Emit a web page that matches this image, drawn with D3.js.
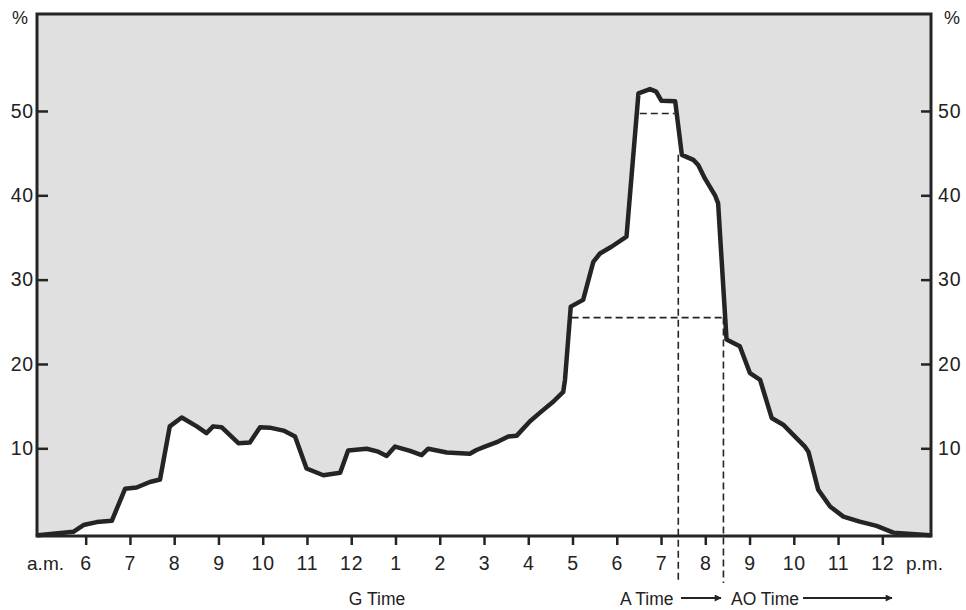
<!DOCTYPE html>
<html>
<head>
<meta charset="utf-8">
<script src="https://cdn.jsdelivr.net/npm/d3@7"></script>
<style>
  html, body { margin: 0; padding: 0; background: #fff; }
  svg { display: block; font-family: "Liberation Sans", Arial, Helvetica, sans-serif; }
</style>
</head>
<body>
<svg id="chart" width="966" height="610"></svg>
<script>
// ---- data (hours of day, percent) ----
const hours = [4.92, 5.72, 5.95, 6.25, 6.59, 6.89, 7.15, 7.45, 7.68, 7.90,
  8.17, 8.51, 8.73, 8.88, 9.07, 9.45, 9.71, 9.94, 10.16, 10.47,
  10.73, 10.99, 11.37, 11.75, 11.93, 12.35, 12.61, 12.80, 12.99, 13.33,
  13.59, 13.74, 14.16, 14.68, 14.83, 15.02, 15.32, 15.55, 15.74, 16.04,
  16.26, 16.57, 16.79, 16.83, 16.96, 17.24, 17.47, 17.62, 17.88, 18.22,
  18.49, 18.75, 18.89, 19.01, 19.32, 19.47, 19.73, 19.84, 19.99, 20.22,
  20.29, 20.48, 20.78, 21.01, 21.24, 21.50, 21.76, 22.25, 22.33, 22.55,
  22.82, 23.12, 23.49, 23.87, 24.25, 25.08];
const percent = [-0.3, 0.1, 0.9, 1.25, 1.4, 5.2, 5.35, 6.0, 6.3, 12.6,
  13.65, 12.6, 11.8, 12.6, 12.5, 10.6, 10.7, 12.5, 12.45, 12.1,
  11.4, 7.6, 6.8, 7.1, 9.75, 9.95, 9.6, 9.1, 10.2, 9.7,
  9.2, 9.95, 9.5, 9.35, 9.8, 10.2, 10.8, 11.4, 11.5, 13.2,
  14.2, 15.55, 16.7, 18.1, 26.8, 27.6, 32.1, 33.1, 33.9, 35.1,
  52.1, 52.6, 52.3, 51.2, 51.15, 44.8, 44.2, 43.6, 42.0, 40.0,
  39.05, 22.9, 22.1, 18.9, 18.1, 13.6, 12.8, 10.2, 9.6, 5.1,
  3.1, 1.9, 1.3, 0.8, 0.0, -0.3];

const xTickHours = [6, 7, 8, 9, 10, 11, 12, 13, 14, 15, 16, 17, 18, 19, 20, 21, 22, 23, 24];
const xTickLabels = ["6", "7", "8", "9", "10", "11", "12", "1", "2", "3", "4", "5", "6", "7", "8", "9", "10", "11", "12"];
const yTickValues = [10, 20, 30, 40, 50];

// reference markers
const aTime = 19.39, aoTime = 20.41;
const peakLevel = 49.7, peakStart = 18.52, peakEnd = 19.31;
const halfLevel = 25.5, halfStart = 16.98, halfEnd = 20.44;
const aTimeTop = 44.8;

// ---- layout ----
const L = 37, R = 931, T = 14, B = 536;
const x = d3.scaleLinear().domain([4.9, 25.1]).range([L, R]);
const y = d3.scaleLinear().domain([-0.4, 61.5]).range([B, T]);

const svg = d3.select("#chart");
const ink = "#242424";
const pts = hours.map((h, i) => [h, percent[i]]);

// gray field
svg.append("rect").attr("x", L).attr("y", T).attr("width", R - L).attr("height", B - T)
  .attr("fill", "#e0e0e0");

// white area under curve
svg.append("path").datum(pts)
  .attr("d", d3.area().x(d => x(d[0])).y0(y(-0.4)).y1(d => y(d[1])))
  .attr("fill", "#fff");

// dashed guide lines
const dash = "7,4";
function dl(x1, y1, x2, y2) {
  svg.append("line").attr("x1", x1).attr("y1", y1).attr("x2", x2).attr("y2", y2)
    .attr("stroke", ink).attr("stroke-width", 1.6).attr("stroke-dasharray", dash);
}
dl(x(peakStart), y(peakLevel), x(peakEnd), y(peakLevel));
dl(x(halfStart), y(halfLevel), x(halfEnd), y(halfLevel));
dl(x(aTime), y(aTimeTop), x(aTime), 583);
dl(x(aoTime), y(halfLevel), x(aoTime), 583);

// curve
svg.append("path").datum(pts)
  .attr("d", d3.line().x(d => x(d[0])).y(d => y(d[1])))
  .attr("fill", "none").attr("stroke", ink).attr("stroke-width", 4.5)
  .attr("stroke-linejoin", "round").attr("stroke-linecap", "round");

// frame
svg.append("rect").attr("x", L).attr("y", T).attr("width", R - L).attr("height", B - T)
  .attr("fill", "none").attr("stroke", ink).attr("stroke-width", 3);

// axes
function styleAxis(g) {
  g.select(".domain").remove();
  g.selectAll(".tick line").attr("stroke", ink).attr("stroke-width", 2.5);
  g.selectAll(".tick text").attr("fill", "#222").attr("font-size", 19.5)
    .attr("letter-spacing", 0.8)
    .attr("font-family", "\"Liberation Sans\", Arial, sans-serif");
}
svg.append("g").attr("transform", `translate(0,${B})`)
  .call(d3.axisBottom(x).tickValues(xTickHours)
    .tickFormat((d, i) => xTickLabels[i]).tickSize(9).tickPadding(11))
  .call(styleAxis);
svg.append("g").attr("transform", `translate(${L},0)`)
  .call(d3.axisLeft(y).tickValues(yTickValues).tickSize(-11).tickPadding(3))
  .call(styleAxis);
svg.append("g").attr("transform", `translate(${R},0)`)
  .call(d3.axisRight(y).tickValues(yTickValues).tickSize(-10).tickPadding(7))
  .call(styleAxis);

// text labels
function txt(s, tx, ty, anchor, size) {
  svg.append("text").attr("x", tx).attr("y", ty).attr("text-anchor", anchor || "start")
    .attr("font-size", size || 17.5).attr("fill", "#222").text(s);
}
txt("%", 20, 24, "middle", 18);
txt("%", 952, 24, "middle", 18);
txt("a.m.", 64, 570, "end", 19);
txt("p.m.", 906, 570, "start", 19);
txt("G Time", 377, 605, "middle");
txt("A Time", 620, 605, "start");
txt("AO Time", 731, 605, "start");

// arrows
const defs = svg.append("defs");
defs.append("marker").attr("id", "ah").attr("viewBox", "0 0 10 10")
  .attr("refX", 9).attr("refY", 5).attr("markerWidth", 11).attr("markerHeight", 7)
  .attr("markerUnits", "userSpaceOnUse").attr("orient", "auto")
  .append("path").attr("d", "M0,0L10,5L0,10Z").attr("fill", ink);
function arrow(x1, x2, yy) {
  svg.append("line").attr("x1", x1).attr("y1", yy).attr("x2", x2).attr("y2", yy)
    .attr("stroke", ink).attr("stroke-width", 2).attr("marker-end", "url(#ah)");
}
arrow(681, 721, 598);
arrow(803, 892, 598);
</script>
</body>
</html>
